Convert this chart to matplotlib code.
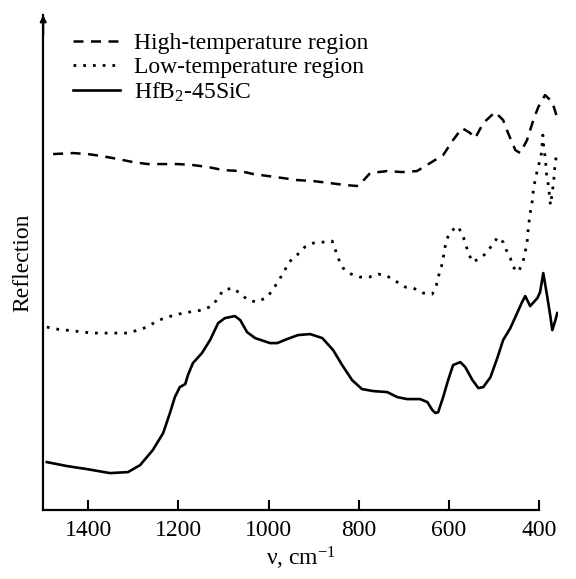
import matplotlib
matplotlib.use("Agg")
import matplotlib.pyplot as plt

plt.rcParams['font.family'] = ['Liberation Serif', 'DejaVu Serif']
plt.rcParams['mathtext.fontset'] = 'custom'
plt.rcParams['mathtext.rm'] = 'Liberation Serif'
plt.rcParams['mathtext.it'] = 'Liberation Serif:italic'

# High-temperature region (dashed)
nu_high = [1478, 1434, 1401, 1370, 1334, 1301, 1268, 1234, 1201, 1168, 1134, 1101,
           1063, 1034, 1001, 968, 937, 901, 864, 830, 801, 775, 737, 704, 671, 642,
           613, 591, 571, 553, 542, 524, 498, 480, 469, 453, 442, 427, 413, 402,
           387, 371, 362]
r_high = [356, 357, 356, 354, 351, 348, 346, 346, 346, 345, 343, 340,
          339, 336, 334, 332, 330, 329, 327, 325, 324, 337, 339, 338, 339, 347,
          355, 370, 382, 377, 372, 387, 398, 390, 377, 360, 357, 370, 390, 403,
          415, 408, 395]

# Low-temperature region (dotted)
nu_low = [1492, 1470, 1430, 1392, 1352, 1312, 1290, 1270, 1248, 1225, 1190, 1148,
          1126, 1112, 1101, 1079, 1059, 1046, 1026, 1003, 990, 977, 964, 955, 937,
          920, 901, 879, 859, 852, 846, 835, 817, 797, 777, 757, 737, 715, 697,
          679, 657, 637, 628, 624, 617, 613, 606, 597, 582, 571, 564, 557, 548,
          530, 515, 502, 491, 480, 473, 464, 458, 446, 435, 427, 424, 420, 415,
          413, 409, 404, 400, 395, 392, 390, 386, 384, 379, 377, 375, 371, 368,
          366, 362]
r_low = [183, 181, 179, 177, 177, 177, 180, 183, 189, 193, 197, 200,
         204, 212, 220, 222, 215, 210, 208, 213, 221, 230, 240, 248, 255,
         263, 267, 268, 269, 260, 252, 242, 236, 233, 233, 236, 234, 228, 223,
         222, 217, 216, 225, 233, 243, 252, 270, 278, 284, 277, 267, 257, 248,
         252, 258, 267, 273, 268, 260, 252, 243, 238, 250, 267, 283, 297, 310,
         320, 330, 340, 347, 357, 375, 363, 350, 337, 323, 313, 305, 318, 328,
         340, 355]

# HfB2-45SiC (solid)
nu_sic = [1492, 1447, 1403, 1352, 1312, 1285, 1257, 1234, 1219, 1208, 1197, 1185,
          1179, 1168, 1148, 1130, 1112, 1097, 1075, 1063, 1048, 1030, 997, 981,
          959, 935, 908, 881, 857, 837, 815, 793, 768, 737, 715, 693, 664, 648,
          637, 630, 624, 613, 602, 591, 575, 564, 548, 535, 524, 508, 493, 480,
          464, 449, 438, 431, 420, 404, 398, 391, 382, 375, 371, 364, 360]
r_sic = [48, 44, 41, 37, 38, 45, 60, 77, 97, 113, 123, 126,
         135, 147, 157, 170, 187, 192, 194, 190, 178, 172, 167, 167,
         171, 175, 176, 172, 160, 145, 130, 121, 119, 118, 113, 111, 111, 108,
         100, 97, 98, 113, 130, 145, 148, 143, 130, 122, 123, 133, 152, 170,
         182, 197, 208, 214, 204, 212, 218, 237, 213, 193, 180, 190, 197]

fig = plt.figure(figsize=(5.76, 5.79), dpi=100)
ax = fig.add_axes([0.075, 0.119, 0.894, 0.855])

ax.plot(nu_high, r_high, color='black', lw=1.8, linestyle=(0, (4, 3)),
        label='High-temperature region')
ax.plot(nu_low, r_low, color='black', lw=2.0, linestyle=(0, (1, 2.5)),
        label='Low-temperature region')
ax.plot(nu_sic, r_sic, color='black', lw=1.9, label='HfB$_2$-45SiC')

ax.set_xlim(1500, 358)
ax.set_ylim(0, 495)
ax.spines['top'].set_visible(False)
ax.spines['right'].set_visible(False)
ax.spines['left'].set_linewidth(1.6)
ax.spines['bottom'].set_linewidth(1.6)
ax.spines['bottom'].set_bounds(1500, 400)

ax.set_xticks([1400, 1200, 1000, 800, 600, 400])
ax.set_yticks([])
ax.tick_params(axis='x', direction='in', length=7, width=1.5, labelsize=17, pad=7)
ax.set_xlabel('ν, cm$^{-1}$', fontsize=17, labelpad=3)
ax.set_ylabel('Reflection', fontsize=17, labelpad=7)

ax.annotate('', xy=(0, 1.0), xytext=(0, 0.96), xycoords='axes fraction',
            arrowprops=dict(arrowstyle='-|>', color='black', lw=1.5,
                            mutation_scale=9, shrinkA=0, shrinkB=0))

ax.legend(loc='upper left', bbox_to_anchor=(0.03, 0.993), frameon=False,
          fontsize=17, handlelength=2.0, handletextpad=0.6, labelspacing=0.1,
          borderaxespad=0.2)

fig.savefig('out.png', dpi=100)
